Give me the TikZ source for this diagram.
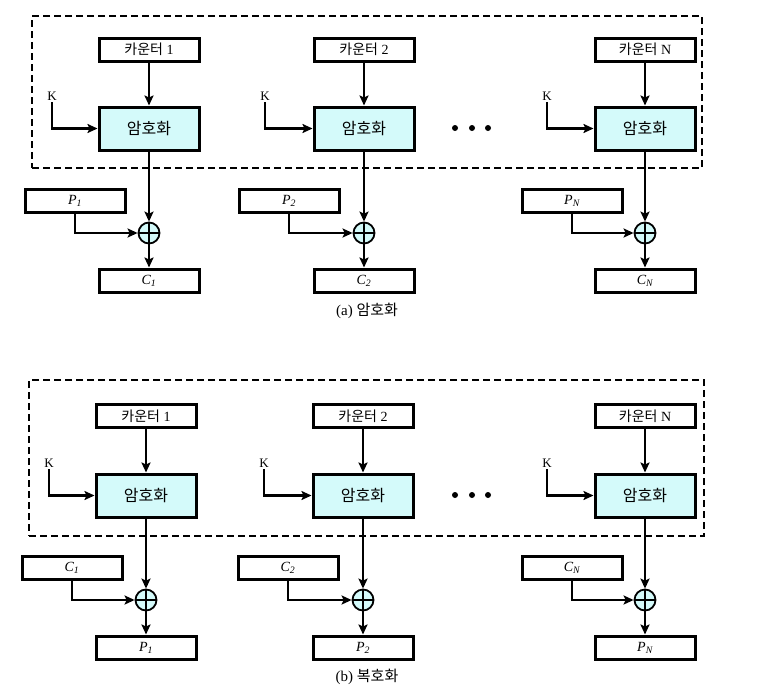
\documentclass[tikz,border=0pt]{standalone}
\usepackage{fontspec}
\setmainfont{Liberation Serif}
\newfontfamily\krfont{Noto Sans CJK KR}
\usetikzlibrary{arrows.meta}
\definecolor{encfill}{RGB}{212,250,250}
\newcommand{\blk}[2]{\textit{#1\textsubscript{#2}}}
\begin{document}
\begin{tikzpicture}[
    x=1pt, y=-1pt,
    ctrbox/.style={draw, line width=3pt, minimum width=100pt, minimum height=23pt, inner sep=0pt, font=\fontsize{14}{14}\selectfont},
    encbox/.style={draw, fill=encfill, line width=3pt, minimum width=100pt, minimum height=43pt, inner sep=0pt, font=\krfont\fontsize{16}{16}\selectfont},
    xorsym/.style={circle, draw, fill=encfill, line width=1.8pt, minimum size=21pt, inner sep=0pt,
        path picture={\draw[line width=2pt] (path picture bounding box.north) -- (path picture bounding box.south)
            (path picture bounding box.west) -- (path picture bounding box.east);}},
    keylbl/.style={inner sep=2pt, font=\fontsize{13}{13}\selectfont},
    flow/.style={line width=2.3pt, -{Stealth[length=10pt, width=9pt, inset=2pt]}},
    frame/.style={draw, line width=2.6pt, dash pattern=on 7pt off 4pt},
    caption/.style={font=\fontsize{15}{15}\selectfont}
]
    \useasboundingbox (0,0) rectangle (773,691);

    % (a) encryption
    \node[frame, minimum width=670pt, minimum height=152pt] (Fa) at (367,92) {};

    \node[ctrbox] (Ta1) at (149,49.5) {{\krfont 카운터} 1};
    \node[ctrbox] (Ta2) at (364,49.5) {{\krfont 카운터} 2};
    \node[ctrbox] (TaN) at (645,49.5) {{\krfont 카운터} N};

    \node[encbox] (Ea1) at (149,128.5) {암호화};
    \node[encbox] (Ea2) at (364,128.5) {암호화};
    \node[encbox] (EaN) at (645,128.5) {암호화};

    \node[keylbl] (Ka1) at (52,96) {K};
    \node[keylbl] (Ka2) at (265,96) {K};
    \node[keylbl] (KaN) at (547,96) {K};

    \node[ctrbox] (Pa1) at (75,200.5) {\blk{P}{1}};
    \node[ctrbox] (Pa2) at (289,200.5) {\blk{P}{2}};
    \node[ctrbox] (PaN) at (572,200.5) {\blk{P}{N}};

    \node[xorsym] (Xa1) at (149,233) {};
    \node[xorsym] (Xa2) at (364,233) {};
    \node[xorsym] (XaN) at (645,233) {};

    \node[ctrbox] (Ca1) at (149,280.5) {\blk{C}{1}};
    \node[ctrbox] (Ca2) at (364,280.5) {\blk{C}{2}};
    \node[ctrbox] (CaN) at (645,280.5) {\blk{C}{N}};

    \fill (455,128) circle (3pt) (472,128) circle (3pt) (488,128) circle (3pt);

    \draw[flow] (Ta1) -- (Ea1);
    \draw[flow] (Ta2) -- (Ea2);
    \draw[flow] (TaN) -- (EaN);

    \draw[flow] (Ka1.south) |- (Ea1.west);
    \draw[flow] (Ka2.south) |- (Ea2.west);
    \draw[flow] (KaN.south) |- (EaN.west);

    \draw[flow] (Ea1) -- (Xa1);
    \draw[flow] (Ea2) -- (Xa2);
    \draw[flow] (EaN) -- (XaN);

    \draw[flow] (Pa1) |- (Xa1);
    \draw[flow] (Pa2) |- (Xa2);
    \draw[flow] (PaN) |- (XaN);

    \draw[flow] (Xa1) -- (Ca1);
    \draw[flow] (Xa2) -- (Ca2);
    \draw[flow] (XaN) -- (CaN);

    \node[caption] (La) at (367,311) {(a) {\krfont 암호화}};

    % (b) decryption
    \node[frame, minimum width=675pt, minimum height=156pt] (Fb) at (366.5,458) {};

    \node[ctrbox] (Tb1) at (146,416) {{\krfont 카운터} 1};
    \node[ctrbox] (Tb2) at (363,416) {{\krfont 카운터} 2};
    \node[ctrbox] (TbN) at (645,416) {{\krfont 카운터} N};

    \node[encbox] (Eb1) at (146,495.5) {암호화};
    \node[encbox] (Eb2) at (363,495.5) {암호화};
    \node[encbox] (EbN) at (645,495.5) {암호화};

    \node[keylbl] (Kb1) at (49,463) {K};
    \node[keylbl] (Kb2) at (264,463) {K};
    \node[keylbl] (KbN) at (547,463) {K};

    \node[ctrbox] (Pb1) at (72,567.5) {\blk{C}{1}};
    \node[ctrbox] (Pb2) at (288,567.5) {\blk{C}{2}};
    \node[ctrbox] (PbN) at (572,567.5) {\blk{C}{N}};

    \node[xorsym] (Xb1) at (146,600) {};
    \node[xorsym] (Xb2) at (363,600) {};
    \node[xorsym] (XbN) at (645,600) {};

    \node[ctrbox] (Cb1) at (146,647.5) {\blk{P}{1}};
    \node[ctrbox] (Cb2) at (363,647.5) {\blk{P}{2}};
    \node[ctrbox] (CbN) at (645,647.5) {\blk{P}{N}};

    \fill (455,495) circle (3pt) (472,495) circle (3pt) (488,495) circle (3pt);

    \draw[flow] (Tb1) -- (Eb1);
    \draw[flow] (Tb2) -- (Eb2);
    \draw[flow] (TbN) -- (EbN);

    \draw[flow] (Kb1.south) |- (Eb1.west);
    \draw[flow] (Kb2.south) |- (Eb2.west);
    \draw[flow] (KbN.south) |- (EbN.west);

    \draw[flow] (Eb1) -- (Xb1);
    \draw[flow] (Eb2) -- (Xb2);
    \draw[flow] (EbN) -- (XbN);

    \draw[flow] (Pb1) |- (Xb1);
    \draw[flow] (Pb2) |- (Xb2);
    \draw[flow] (PbN) |- (XbN);

    \draw[flow] (Xb1) -- (Cb1);
    \draw[flow] (Xb2) -- (Cb2);
    \draw[flow] (XbN) -- (CbN);

    \node[caption] (Lb) at (367,677) {(b) {\krfont 복호화}};

\end{tikzpicture}
\end{document}
